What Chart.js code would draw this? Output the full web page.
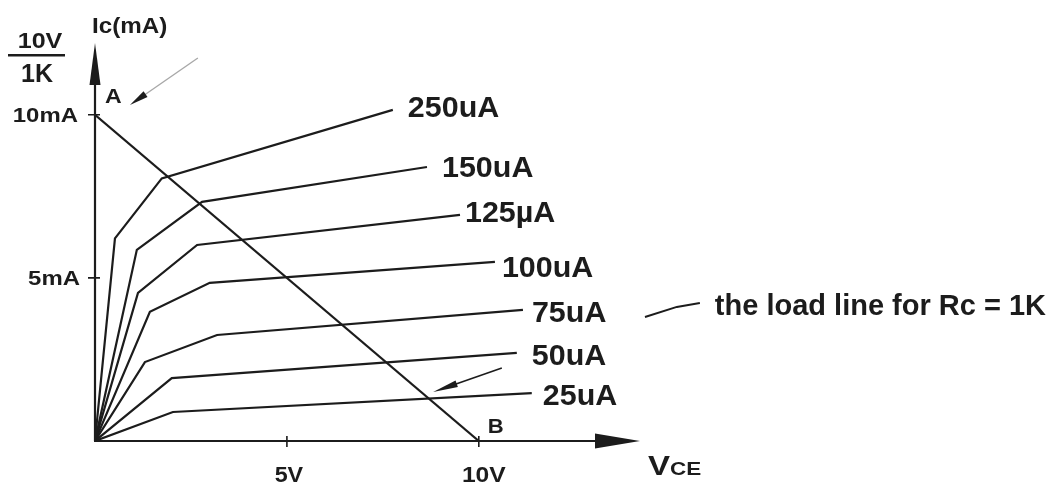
<!DOCTYPE html>
<html>
<head>
<meta charset="utf-8">
<script src="https://cdn.jsdelivr.net/npm/chart.js@4.4.1/dist/chart.umd.min.js"></script>
<style>
  html, body { margin: 0; padding: 0; background: #ffffff; }
  #wrap { width: 1058px; height: 486px; }
</style>
</head>
<body>
<div id="wrap"><canvas id="c" width="1058" height="486"></canvas></div>
<script>
// ---- data (VCE in volts, Ic in mA) ----
const seriesLabels = ['250uA', '150uA', '125\u00b5A', '100uA', '75uA', '50uA', '25uA'];
const vce250 = [0, 0.52, 1.74, 7.76];
const ic250  = [0, 6.21, 8.05, 10.15];
const vce150 = [0, 1.09, 2.79, 8.65];
const ic150  = [0, 5.86, 7.33, 8.40];
const vce125 = [0, 1.12, 2.66, 9.51];
const ic125  = [0, 4.54, 6.01, 6.93];
const vce100 = [0, 1.43, 2.99, 10.42];
const ic100  = [0, 3.96, 4.85, 5.49];
const vce75  = [0, 1.30, 3.18, 11.15];
const ic75   = [0, 2.42, 3.25, 4.02];
const vce50  = [0, 2.00, 10.99];
const ic50   = [0, 1.93, 2.70];
const vce25  = [0, 2.03, 11.38];
const ic25   = [0, 0.89, 1.47];
const loadVce = [0, 10];
const loadIc  = [10, 0];
const xTickValues = [5, 10];
const xTickLabels = ['5V', '10V'];
const yTickValues = [5, 10];
const yTickLabels = ['5mA', '10mA'];
const axisTitleY = 'Ic(mA)';
const axisTitleXMain = 'V';
const axisTitleXSub = 'CE';
const fractionTop = '10V';
const fractionBottom = '1K';
const pointA = 'A';
const pointB = 'B';
const loadNote = 'the load line for Rc = 1K';
// annotation marks in data coordinates
const arrowAVce = [2.68, 0.91];
const arrowAIc  = [11.74, 10.30];
const arrowLoadVce = [10.60, 8.81];
const arrowLoadIc  = [2.24, 1.50];
const noteLeaderVce = [14.33, 15.16, 15.76];
const noteLeaderIc  = [3.80, 4.11, 4.23];

// ---- styles ----
const INK = '#1c1c1c';
const FONT = '"Liberation Sans", Arial, Helvetica, sans-serif';
const labelOffsets = [[15, 7], [15, 10], [5, 7], [7, 15], [9, 12], [15, 12], [11, 12]];

function pts(xs, ys) { return xs.map((x, i) => ({ x: x, y: ys[i] })); }
const curveX = [vce250, vce150, vce125, vce100, vce75, vce50, vce25];
const curveY = [ic250, ic150, ic125, ic100, ic75, ic50, ic25];

const datasets = curveX.map((xs, i) => ({
  label: seriesLabels[i],
  data: pts(xs, curveY[i]),
  showLine: true, borderColor: INK, borderWidth: 2.2, pointRadius: 0, tension: 0, fill: false
}));
datasets.push({
  label: 'load line', data: pts(loadVce, loadIc),
  showLine: true, borderColor: INK, borderWidth: 2.2, pointRadius: 0, tension: 0, fill: false
});

// draws text; sx = horizontal stretch; returns drawn width
function txt(ctx, s, x, y, size, align, sx) {
  sx = sx || 1;
  ctx.save();
  ctx.font = 'bold ' + size + 'px ' + FONT;
  ctx.textBaseline = 'alphabetic';
  ctx.fillStyle = INK;
  const w = ctx.measureText(s).width * sx;
  let left = x;
  if (align === 'right') left = x - w;
  else if (align === 'center') left = x - w / 2;
  ctx.translate(left, y);
  ctx.scale(sx, 1);
  ctx.textAlign = 'left';
  ctx.fillText(s, 0, 0);
  ctx.restore();
  return w;
}
function head(ctx, tx, ty, fx, fy, len, hw, color) {
  const a = Math.atan2(ty - fy, tx - fx);
  const bx = tx - len * Math.cos(a), by = ty - len * Math.sin(a);
  const nx = -Math.sin(a) * hw, ny = Math.cos(a) * hw;
  ctx.beginPath();
  ctx.moveTo(tx, ty);
  ctx.lineTo(bx + nx, by + ny);
  ctx.lineTo(bx - nx, by - ny);
  ctx.closePath();
  ctx.fillStyle = color;
  ctx.fill();
}

const decor = {
  id: 'decor',
  beforeDatasetsDraw(chart) {
    const ctx = chart.ctx, xs = chart.scales.x, ys = chart.scales.y, ca = chart.chartArea;
    const ox = xs.getPixelForValue(0), oy = ys.getPixelForValue(0);
    ctx.save();
    ctx.strokeStyle = INK; ctx.lineWidth = 2.2; ctx.lineCap = 'butt';
    // axes
    ctx.beginPath();
    ctx.moveTo(ox, oy); ctx.lineTo(ox, ca.top + 20);
    ctx.moveTo(ox - 1, oy); ctx.lineTo(ca.right - 20, oy);
    ctx.stroke();
    head(ctx, ox, ca.top, ox, oy, 42, 5.5, INK);
    head(ctx, ca.right, oy, ox, oy, 45, 7.5, INK);
    // ticks
    ctx.lineWidth = 1.6;
    ctx.beginPath();
    yTickValues.forEach(v => { const y = ys.getPixelForValue(v); ctx.moveTo(ox - 7, y); ctx.lineTo(ox + 5, y); });
    xTickValues.forEach(v => { const x = xs.getPixelForValue(v); ctx.moveTo(x, oy - 5); ctx.lineTo(x, oy + 6); });
    ctx.stroke();
    ctx.restore();
  },
  afterDatasetsDraw(chart) {
    const ctx = chart.ctx, xs = chart.scales.x, ys = chart.scales.y, ca = chart.chartArea;
    const X = v => xs.getPixelForValue(v), Y = v => ys.getPixelForValue(v);
    const ox = X(0), oy = Y(0);
    ctx.save();
    // tick labels
    txt(ctx, yTickLabels[1], ox - 17, Y(yTickValues[1]) + 7, 21, 'right', 1.14);
    txt(ctx, yTickLabels[0], ox - 15, Y(yTickValues[0]) + 7, 21, 'right', 1.14);
    txt(ctx, xTickLabels[0], X(xTickValues[0]) + 2, oy + 41, 22, 'center', 1.06);
    txt(ctx, xTickLabels[1], X(xTickValues[1]) + 5, oy + 41, 22, 'center', 1.12);
    // axis titles
    txt(ctx, axisTitleY, ox - 3, ca.top - 10, 22, 'left', 1.1);
    const vw = txt(ctx, axisTitleXMain, ca.right + 8, oy + 34, 28, 'left', 1.18);
    txt(ctx, axisTitleXSub, ca.right + 8 + vw, oy + 34, 18, 'left', 1.25);
    // fraction 10V / 1K
    txt(ctx, fractionTop, ox - 55, ca.top + 5, 22, 'center', 1.14);
    ctx.fillStyle = INK;
    ctx.fillRect(ox - 87, ca.top + 11, 57, 2.5);
    txt(ctx, fractionBottom, ox - 58, ca.top + 39, 25, 'center', 1.0);
    // A / B
    txt(ctx, pointA, ox + 10, Y(10) - 12, 21, 'left', 1.1);
    txt(ctx, pointB, X(10) + 9, oy - 8, 21, 'left', 1.05);
    // series labels
    curveX.forEach((xsArr, i) => {
      const n = xsArr.length - 1;
      const px = X(xsArr[n]), py = Y(curveY[i][n]);
      txt(ctx, seriesLabels[i], px + labelOffsets[i][0], py + labelOffsets[i][1], 29, 'left', 1.05);
    });
    // arrow to A (gray shaft, black head)
    ctx.strokeStyle = '#a8a8a8'; ctx.lineWidth = 1.4;
    ctx.beginPath();
    ctx.moveTo(X(arrowAVce[0]), Y(arrowAIc[0])); ctx.lineTo(X(arrowAVce[1]) + 8, Y(arrowAIc[1]) - 5.5);
    ctx.stroke();
    head(ctx, X(arrowAVce[1]), Y(arrowAIc[1]), X(arrowAVce[0]), Y(arrowAIc[0]), 19, 3.5, INK);
    // arrow to load line at 25uA
    ctx.strokeStyle = INK; ctx.lineWidth = 1.6;
    ctx.beginPath();
    ctx.moveTo(X(arrowLoadVce[0]), Y(arrowLoadIc[0])); ctx.lineTo(X(arrowLoadVce[1]) + 10, Y(arrowLoadIc[1]) - 3.5);
    ctx.stroke();
    head(ctx, X(arrowLoadVce[1]), Y(arrowLoadIc[1]), X(arrowLoadVce[0]), Y(arrowLoadIc[0]), 25, 3.5, INK);
    // note leader + text
    ctx.strokeStyle = INK; ctx.lineWidth = 2;
    ctx.beginPath();
    noteLeaderVce.forEach((v, i) => {
      const px = X(v), py = Y(noteLeaderIc[i]);
      if (i === 0) ctx.moveTo(px, py); else ctx.lineTo(px, py);
    });
    ctx.stroke();
    const lx = X(noteLeaderVce[noteLeaderVce.length - 1]), ly = Y(noteLeaderIc[noteLeaderIc.length - 1]);
    txt(ctx, loadNote, lx + 15, ly + 12, 29, 'left', 1.0);
    ctx.restore();
  }
};

new Chart(document.getElementById('c'), {
  type: 'scatter',
  data: { datasets: datasets },
  options: {
    responsive: false,
    devicePixelRatio: 1,
    animation: false,
    layout: { padding: { left: 95, right: 418, top: 43, bottom: 45 } },
    plugins: { legend: { display: false }, tooltip: { enabled: false } },
    scales: {
      x: { type: 'linear', min: 0, max: 14.2, display: false },
      y: { type: 'linear', min: 0, max: 12.2, display: false }
    }
  },
  plugins: [decor]
});
</script>
</body>
</html>
